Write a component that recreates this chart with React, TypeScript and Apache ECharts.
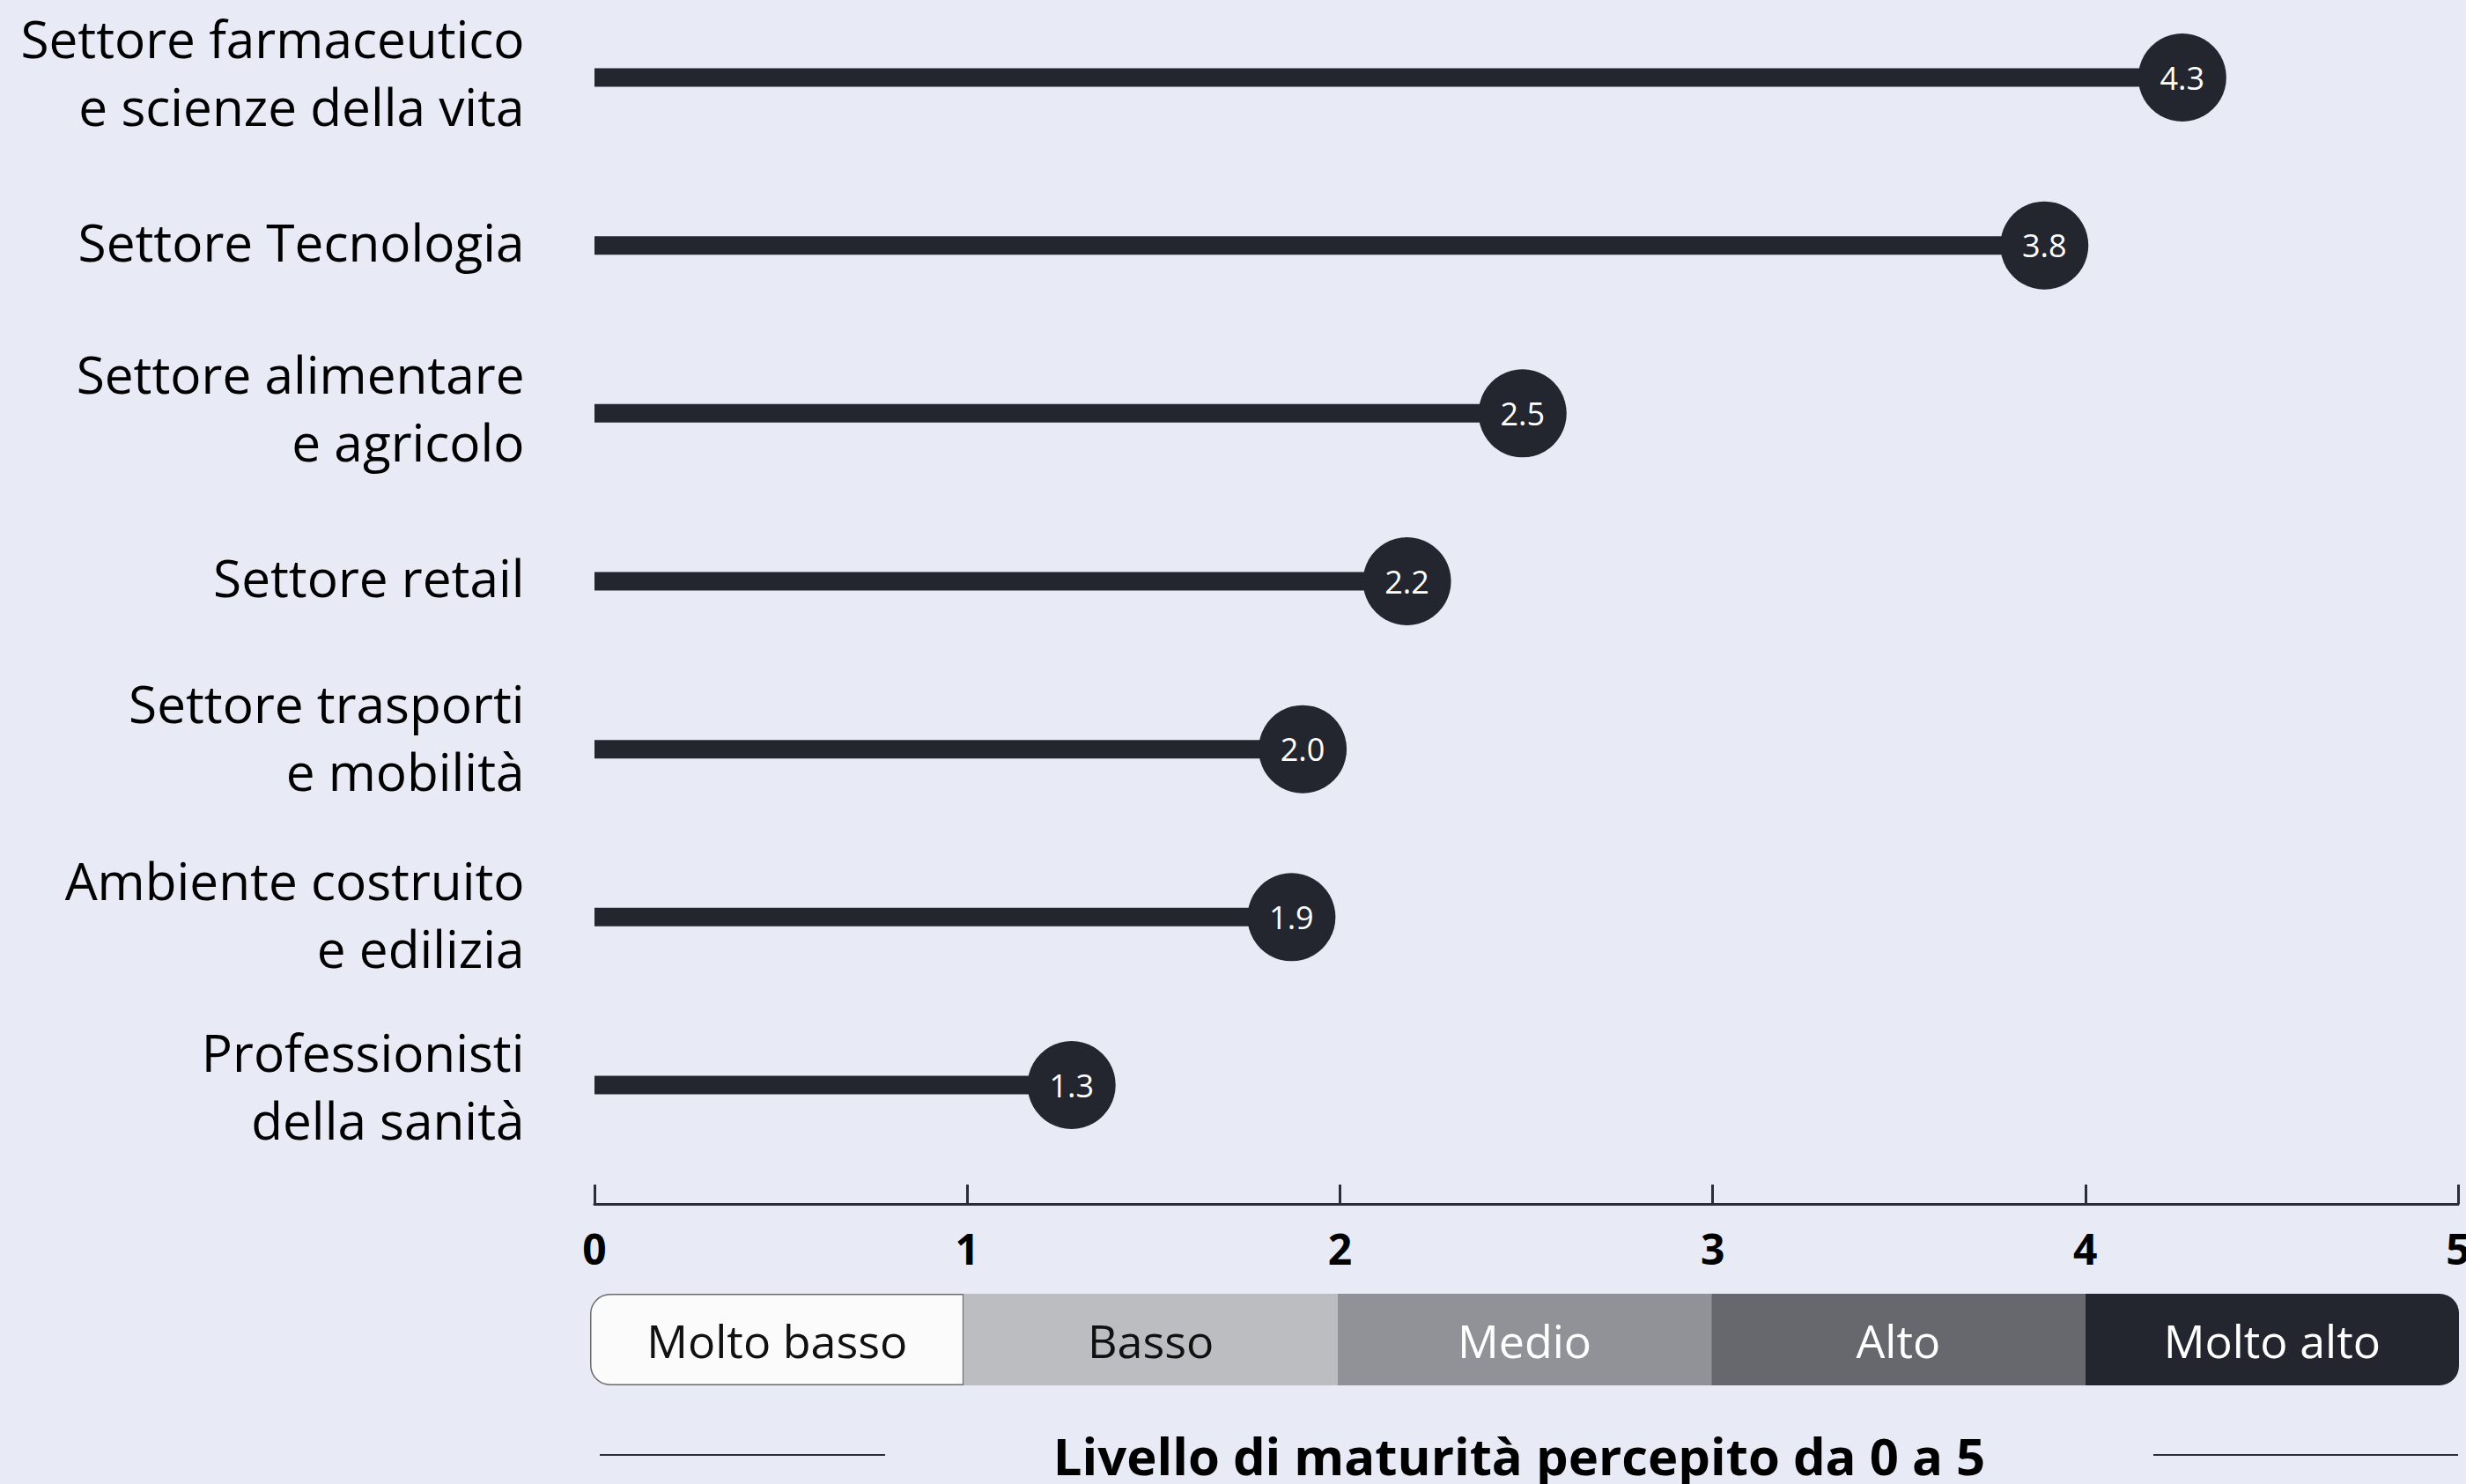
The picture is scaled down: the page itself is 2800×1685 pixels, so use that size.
import React, { useEffect, useRef } from "react";
import * as echarts from "echarts";

const categories = [
  "Settore farmaceutico\ne scienze della vita",
  "Settore Tecnologia",
  "Settore alimentare\ne agricolo",
  "Settore retail",
  "Settore trasporti\ne mobilità",
  "Ambiente costruito\ne edilizia",
  "Professionisti\ndella sanità",
];
const values = [4.26, 3.89, 2.49, 2.18, 1.9, 1.87, 1.28];
const valueLabels = ["4.3", "3.8", "2.5", "2.2", "2.0", "1.9", "1.3"];
const xTicks = [0, 1, 2, 3, 4, 5];
const levels = ["Molto basso", "Basso", "Medio", "Alto", "Molto alto"];
const levelSpan = [1, 1, 1, 1, 1];
const levelColors = ["#fbfbfb", "#bcbdc0", "#919297", "#67686d", "#23262e"];
const levelTextColors = ["#111111", "#111111", "#ffffff", "#ffffff", "#ffffff"];
const axisTitle = "Livello di maturità percepito da 0 a 5";

// layout only: small vertical nudges of the category labels (px)
const LABEL_NUDGE = [-7, -5, -7, -5, -14, -4, 0];

const FONT = "'Open Sans', 'Noto Sans', sans-serif";
const DARK = "#23262e";
const BG = "#e8eaf6";

export default function App() {
  const ref = useRef<HTMLDivElement>(null);
  useEffect(() => {
    if (!ref.current) return;
    const chart = echarts.init(ref.current, null, { renderer: "svg" });
    const n = levels.length;
    const levelSeries = levels.map((name, i) => ({
      type: "bar",
      name,
      xAxisIndex: 1,
      yAxisIndex: 1,
      stack: "levels",
      barWidth: 104,
      data: [levelSpan[i]],
      itemStyle: {
        color: levelColors[i],
        borderColor: i === 0 ? "#6a6a6a" : levelColors[i],
        borderWidth: i === 0 ? 1.5 : 0,
        borderRadius: i === 0 ? [22, 0, 0, 22] : i === n - 1 ? [0, 22, 22, 0] : 0,
      },
      label: {
        show: true,
        position: "inside",
        formatter: name,
        color: levelTextColors[i],
        fontSize: 52,
        fontFamily: FONT,
      },
      silent: true,
    }));

    chart.setOption({
      animation: false,
      backgroundColor: BG,
      grid: [
        { left: 675, right: 9, top: 88, bottom: 1685 - 1232, containLabel: false, outerBoundsMode: "none" },
        { left: 670, right: 8, top: 1469, height: 104, containLabel: false, outerBoundsMode: "none" },
      ],
      xAxis: [
        {
          type: "value",
          gridIndex: 0,
          min: xTicks[0],
          max: xTicks[xTicks.length - 1],
          interval: 1,
          offset: 135,
          axisLine: { show: true, lineStyle: { color: "#2b2e36", width: 3 } },
          axisTick: { show: true, inside: true, length: 22, lineStyle: { color: "#2b2e36", width: 3 } },
          splitLine: { show: false },
          axisLabel: {
            color: "#000",
            fontSize: 48,
            fontWeight: "bold",
            fontFamily: FONT,
            margin: 26,
            showMaxLabel: true,
            showMinLabel: true,
          },
        },
        {
          type: "value",
          gridIndex: 1,
          min: 0,
          max: 5,
          show: false,
        },
      ],
      yAxis: [
        {
          type: "category",
          gridIndex: 0,
          data: categories,
          inverse: true,
          boundaryGap: false,
          axisLine: { show: false },
          axisTick: { show: false },
          splitLine: { show: false },
          axisLabel: { show: false },
        },
        {
          type: "category",
          gridIndex: 1,
          data: ["scala"],
          show: false,
        },
      ],
      series: [
        {
          type: "bar",
          xAxisIndex: 0,
          yAxisIndex: 0,
          data: values,
          barWidth: 21,
          itemStyle: { color: DARK },
          silent: true,
        },
        {
          type: "scatter",
          xAxisIndex: 0,
          yAxisIndex: 0,
          data: values,
          symbol: "circle",
          symbolSize: 100,
          itemStyle: { color: DARK, opacity: 1 },
          z: 5,
          label: {
            show: true,
            position: "inside",
            formatter: (p: any) => valueLabels[p.dataIndex],
            color: "#ffffff",
            fontSize: 36,
            fontFamily: FONT,
          },
          silent: true,
        },
        {
          type: "scatter",
          xAxisIndex: 0,
          yAxisIndex: 0,
          symbol: "circle",
          symbolSize: 1,
          itemStyle: { color: BG, opacity: 1 },
          z: 1,
          data: categories.map((c, i) => ({
            value: [0, i],
            label: { offset: [0, LABEL_NUDGE[i]] },
          })),
          label: {
            show: true,
            position: "left",
            distance: 79,
            align: "right",
            verticalAlign: "middle",
            formatter: (p: any) => categories[p.dataIndex],
            color: "#000000",
            opacity: 1,
            textBorderWidth: 0,
            fontSize: 58.5,
            lineHeight: 77,
            fontFamily: FONT,
          },
          silent: true,
        },
        ...levelSeries,
      ],
      graphic: [
        {
          type: "line",
          shape: { x1: 681, y1: 1652, x2: 1005, y2: 1652 },
          style: { stroke: "#2b2e36", lineWidth: 2 },
        },
        {
          type: "line",
          shape: { x1: 2445, y1: 1652, x2: 2791, y2: 1652 },
          style: { stroke: "#2b2e36", lineWidth: 2 },
        },
        {
          type: "text",
          x: 1725,
          y: 1652,
          style: {
            text: axisTitle,
            fill: "#000",
            fontSize: 58,
            fontWeight: "bold",
            fontFamily: FONT,
            align: "center",
            verticalAlign: "middle",
          },
        },
      ],
    });
    return () => chart.dispose();
  }, []);
  return (
    <div
      ref={ref}
      style={{ position: "fixed", left: 0, top: 0, width: 2800, height: 1685, background: BG }}
    />
  );
}
